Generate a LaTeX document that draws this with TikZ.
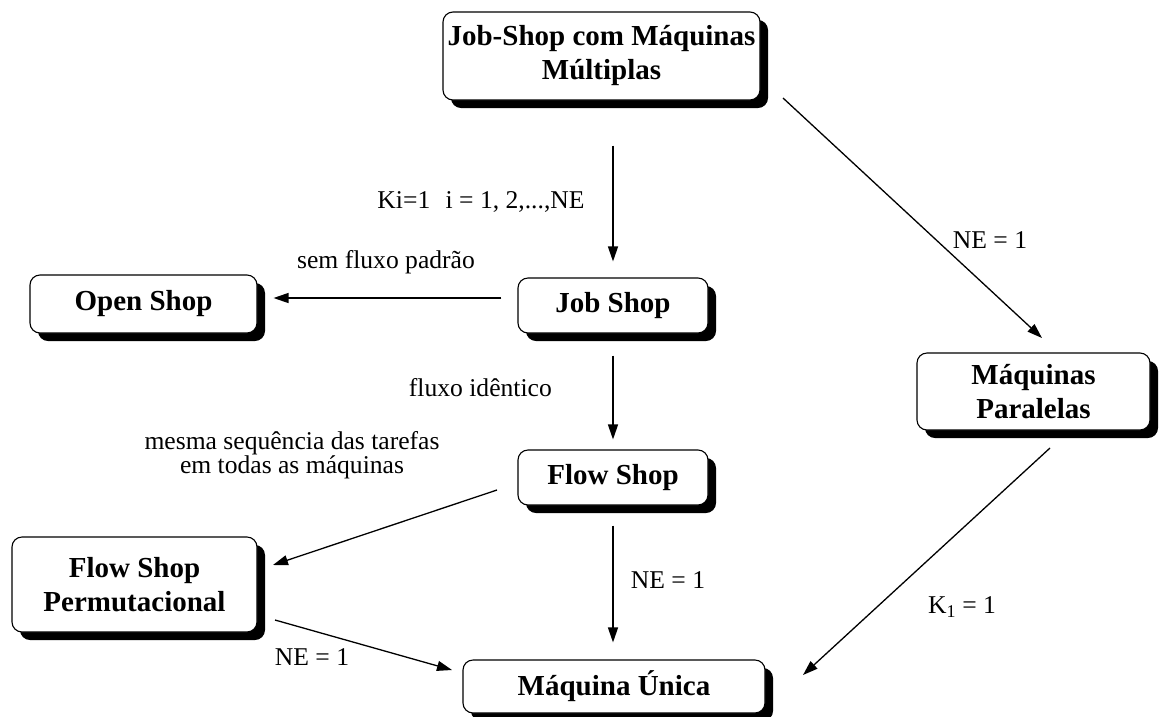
\documentclass[tikz,border=0pt]{standalone}
\usepackage{fontspec}
\setmainfont{Liberation Serif}
\usetikzlibrary{arrows.meta,shadows,calc}
\begin{document}
\begin{tikzpicture}[x=1pt,y=-1pt,
  box/.style={draw, line width=1.1pt, rounded corners=10pt, fill=white,
    drop shadow={shadow xshift=8pt,shadow yshift=-8pt,fill=black,opacity=1},
    font=\bfseries\fontsize{29}{34}\selectfont, align=center, inner sep=0pt},
  arr/.style={-{Triangle[length=15pt,width=10pt]}, line width=1.3pt},
  lab/.style={font=\fontsize{25.6}{23.5}\selectfont, align=center, inner sep=0pt}]
\useasboundingbox (0,0) rectangle (1163,716);
% boxes
\node[box, minimum width=317pt, minimum height=88pt] (jsmm) at (601.5,56) {Job-Shop com Máquinas\\Múltiplas};
\node[box, minimum width=227pt, minimum height=58pt] (os) at (143.5,304) {Open Shop};
\node[box, minimum width=190pt, minimum height=55pt] (js) at (613,305.5) {Job Shop};
\node[box, minimum width=190pt, minimum height=55pt] (fs) at (613,477.5) {Flow Shop};
\node[box, minimum width=245pt, minimum height=95pt] (fsp) at (134.5,584.5) {Flow Shop\\Permutacional};
\node[box, minimum width=233pt, minimum height=77pt] (mp) at (1033.5,391.5) {Máquinas\\Paralelas};
\node[box, minimum width=302pt, minimum height=53pt] (mu) at (614,686.5) {Máquina Única};
% free arrow ends
\coordinate (a4s) at (497,490); \coordinate (a4e) at (273,565);
\coordinate (a6s) at (275,620); \coordinate (a6e) at (452,670);
\coordinate (a7s) at (783,98);  \coordinate (a7e) at (1042,338);
\coordinate (a8s) at (1050,448); \coordinate (a8e) at (803,675);
% connectors
\draw[arr, shorten <=45pt, shorten >=16pt] (jsmm.south -| js.north) -- (js.north);
\draw[arr, shorten <=16pt, shorten >=16pt] ([yshift=7.5pt]js.west) -- ([yshift=6pt]os.east);
\draw[arr, shorten <=22pt, shorten >=10pt] (js.south) -- (fs.north);
\draw[arr] (a4s) -- (a4e);
\draw[arr, shorten <=20pt, shorten >=17pt] (fs.south) -- (fs.south |- mu.north);
\draw[arr] (a6s) -- (a6e);
\draw[arr] (a7s) -- (a7e);
\draw[arr] (a8s) -- (a8e);
% labels
\node[lab] (l1) at (481,202) {Ki=1\hspace{0.6em}i = 1, 2,...,NE};
\node[lab] (l2) at (386,262) {sem fluxo padrão};
\node[lab, anchor=east] (l3) at (552,388) {fluxo idêntico};
\node[lab] (l4) at (292,455) {mesma sequência das tarefas\\em todas as máquinas};
\node[lab] (l5) at (990,240) {NE = 1};
\node[lab] (l6) at (668,580) {NE = 1};
\node[lab] (l7) at (312,657) {NE = 1};
\node[lab] (l8) at (962,607) {K\textsubscript{1} = 1};
\end{tikzpicture}
\end{document}
